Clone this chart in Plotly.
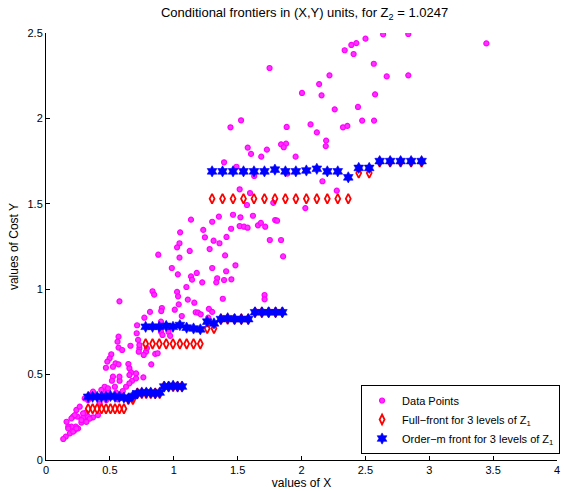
import numpy as np
import plotly.graph_objects as go

# ---------------- data points (X, Cost Y) ----------------
data_x = [
    1.516, 1.573, 1.464, 1.522, 1.353, 1.301, 1.135, 1.516, 1.550, 1.578, 1.449, 1.231, 1.050, 1.244, 1.413,
    1.312, 1.358, 1.045, 1.026, 1.125, 1.281, 0.879, 1.045, 1.402, 1.483, 0.985, 1.301, 1.032, 1.180, 1.410,
    1.135, 1.143, 1.340, 1.333, 1.223, 1.394, 1.451, 1.099, 0.834, 0.847, 1.026, 1.034, 0.575, 1.110, 1.384,
    1.161, 1.039, 0.907, 0.902, 1.008, 0.814, 1.275, 1.301, 1.172, 1.190, 1.211, 0.770, 1.063, 0.900, 0.713,
    1.270,
    0.710, 0.568, 0.560, 0.568, 0.661, 0.721, 0.731, 0.726, 0.783, 0.765, 0.855, 0.874, 0.824, 0.511, 0.498,
    0.480, 0.544, 0.568, 0.524, 0.469, 0.645, 0.653, 0.666, 0.705, 0.762, 0.524, 0.516, 0.576, 0.674, 0.539,
    0.459, 0.446, 0.485, 0.549, 0.562, 0.601, 0.472, 0.420, 0.407, 0.368, 0.329, 0.311, 0.290, 0.246, 0.212,
    0.277, 0.251, 0.233, 0.200, 0.225, 0.174, 0.187, 0.155, 0.135, 0.342, 0.316,
    0.596, 0.575, 0.653, 0.705, 0.485, 0.433, 0.627, 0.653, 0.368, 0.342, 0.303, 0.329, 0.238, 0.264, 0.290,
    0.225, 0.199, 0.161, 0.174, 0.213, 0.238, 0.277,
    0.900, 0.912, 0.959, 0.972, 0.731, 0.790,
    2.639, 2.836, 3.447, 2.501, 2.429, 2.390, 2.338, 2.408, 2.566, 2.219, 2.667, 2.836, 2.138, 2.004, 2.157,
    2.576, 2.260, 2.442, 2.071, 2.120, 2.325, 2.359, 2.475, 2.568, 2.193, 2.190, 2.164, 2.276,
    1.527, 1.444, 1.884, 1.840, 1.879, 1.861, 1.579, 1.605, 1.729, 1.685, 1.954, 1.394, 1.491, 1.630, 1.889,
    1.597, 1.779, 2.030, 1.620, 1.659, 1.682, 1.716, 1.794, 1.809, 1.752, 1.840, 1.856, 1.711, 1.711, 1.750,
]
data_y = [
    1.585, 1.493, 1.436, 1.421, 1.425, 1.395, 1.407, 1.370, 1.366, 1.360, 1.354, 1.347, 1.333, 1.304, 1.306,
    1.284, 1.269, 1.269, 1.245, 1.224, 1.235, 1.202, 1.185, 1.198, 1.140, 1.124, 1.124, 1.087, 1.095, 1.105,
    1.075, 1.056, 1.064, 1.040, 1.040, 1.054, 1.058, 1.013, 0.988, 0.968, 0.984, 0.958, 0.929, 0.939, 0.944,
    0.921, 0.911, 0.890, 0.872, 0.880, 0.867, 0.885, 0.867, 0.865, 0.863, 0.853, 0.833, 0.843, 0.810, 0.789,
    0.833,
    0.742, 0.722, 0.693, 0.658, 0.669, 0.703, 0.654, 0.634, 0.634, 0.615, 0.621, 0.625, 0.560, 0.619, 0.595,
    0.576, 0.566, 0.560, 0.546, 0.540, 0.562, 0.537, 0.513, 0.507, 0.484, 0.488, 0.464, 0.464, 0.464, 0.429,
    0.429, 0.400, 0.400, 0.394, 0.355, 0.404, 0.351, 0.332, 0.263, 0.250, 0.254, 0.277, 0.248, 0.254, 0.254,
    0.219, 0.185, 0.195, 0.195, 0.176, 0.195, 0.156, 0.137, 0.123, 0.242, 0.223,
    0.644, 0.488, 0.498, 0.478, 0.420, 0.410, 0.429, 0.449, 0.400, 0.381, 0.361, 0.351, 0.293, 0.312, 0.273,
    0.263, 0.244, 0.224, 0.185, 0.166, 0.185, 0.234,
    0.751, 0.732, 0.751, 0.727, 0.673, 0.655,
    2.492, 2.494, 2.439, 2.467, 2.441, 2.430, 2.399, 2.377, 2.320, 2.252, 2.246, 2.252, 2.201, 2.149, 2.135,
    2.141, 2.053, 2.067, 1.965, 1.918, 1.948, 1.956, 1.987, 1.987, 1.870, 1.838, 1.632, 1.577,
    1.989, 1.948, 1.950, 1.848, 1.852, 1.831, 1.829, 1.792, 1.817, 1.776, 1.776, 1.743, 1.717, 1.663, 1.677,
    1.563, 1.506, 1.475, 1.430, 1.374, 1.388, 1.366, 1.405, 1.401, 1.288, 1.288, 1.192, 0.966, 0.941, 2.295,
]

# ---------------- frontiers for 3 levels of Z1 ----------------
lvl1_x = [0.330, 0.365, 0.400, 0.435, 0.470, 0.505, 0.540, 0.575, 0.610, 0.645, 0.680,
          0.715, 0.750, 0.785, 0.820, 0.855, 0.890, 0.925, 0.960, 0.995, 1.030, 1.065]
lvl1_full = [0.30, 0.30, 0.30, 0.30, 0.30, 0.30, 0.30, 0.30, 0.30, 0.355, 0.355,
             0.39, 0.39, 0.39, 0.39, 0.39, 0.39, 0.43, 0.43, 0.43, 0.43, 0.43]
lvl1_orderm = [0.37, 0.37, 0.37, 0.37, 0.37, 0.375, 0.37, 0.37, 0.365, 0.36, 0.375,
               0.39, 0.395, 0.395, 0.395, 0.39, 0.395, 0.43, 0.43, 0.435, 0.43, 0.43]

lvl2_x = [0.780, 0.834, 0.887, 0.941, 0.994, 1.048, 1.101, 1.155, 1.208, 1.262, 1.315,
          1.369, 1.422, 1.476, 1.529, 1.583, 1.636, 1.690, 1.743, 1.797, 1.850]
lvl2_full = [0.68, 0.68, 0.68, 0.68, 0.68, 0.68, 0.68, 0.68, 0.68, 0.77, 0.77,
             0.825, 0.825, 0.825, 0.825, 0.825, 0.865, 0.865, 0.865, 0.865, 0.865]
lvl2_orderm = [0.78, 0.78, 0.78, 0.785, 0.78, 0.79, 0.775, 0.77, 0.765, 0.81, 0.80,
               0.825, 0.83, 0.825, 0.825, 0.825, 0.865, 0.865, 0.865, 0.865, 0.865]

lvl3_x = [1.300, 1.382, 1.464, 1.546, 1.628, 1.710, 1.792, 1.874, 1.956, 2.038, 2.120,
          2.202, 2.284, 2.366, 2.448, 2.530, 2.612, 2.694, 2.776, 2.858, 2.940]
lvl3_full = [1.53, 1.53, 1.53, 1.53, 1.53, 1.53, 1.53, 1.53, 1.53, 1.53, 1.53,
             1.53, 1.53, 1.53, 1.68, 1.68, 1.745, 1.745, 1.745, 1.745, 1.745]
lvl3_orderm = [1.69, 1.69, 1.69, 1.69, 1.69, 1.69, 1.70, 1.69, 1.69, 1.695, 1.705,
               1.69, 1.69, 1.655, 1.71, 1.71, 1.75, 1.75, 1.75, 1.75, 1.75]

x_ticks = [0, 0.5, 1, 1.5, 2, 2.5, 3, 3.5, 4]
x_tick_labels = ["0", "0.5", "1", "1.5", "2", "2.5", "3", "3.5", "4"]
y_ticks = [0, 0.5, 1, 1.5, 2, 2.5]
y_tick_labels = ["0", "0.5", "1", "1.5", "2", "2.5"]

front_x = lvl1_x + lvl2_x + lvl3_x
front_full = lvl1_full + lvl2_full + lvl3_full
front_orderm = lvl1_orderm + lvl2_orderm + lvl3_orderm

FONT = "Liberation Sans, Arial, Helvetica, sans-serif"

fig = go.Figure()
fig.add_trace(go.Scatter(
    x=data_x, y=data_y, mode="markers", name="Data Points",
    marker=dict(symbol="circle", size=5, color="#ff33ff",
                line=dict(color="#ff00ff", width=1.2)),
))
fig.add_trace(go.Scatter(
    x=front_x, y=front_full, mode="markers",
    name="Full\u2212front for 3 levels of Z<sub>1</sub>",
    marker=dict(symbol="diamond-tall-open", size=7, color="#ff0000",
                line=dict(color="#ff0000", width=1.8)),
))
fig.add_trace(go.Scatter(
    x=front_x, y=front_orderm, mode="markers",
    name="Order\u2212m front for 3 levels of Z<sub>1</sub>",
    marker=dict(symbol="hexagram", size=8.5, color="#0000ff",
                line=dict(color="#0000ff", width=0.6)),
))

axis_common = dict(
    showline=True, linecolor="#000000", linewidth=1,
    ticks="inside", ticklen=4, tickcolor="#000000", tickwidth=1,
    showgrid=False, zeroline=False, mirror=False,
    tickfont=dict(family=FONT, size=11, color="#000000"),
)

fig.update_layout(
    width=564, height=491,
    margin=dict(l=46, r=4, t=33, b=31),
    paper_bgcolor="white", plot_bgcolor="white",
    font=dict(family=FONT, color="#000000"),
    title=dict(text="Conditional frontiers in (X,Y) units, for Z<sub>2</sub> = 1.0247",
               x=0.54, xanchor="center", y=0.983, yanchor="top",
               font=dict(family=FONT, size=13, color="#000000")),
    xaxis=dict(range=[0, 4], tickvals=x_ticks, ticktext=x_tick_labels,
               title=dict(text="values of X", standoff=2,
                          font=dict(family=FONT, size=12, color="#000000")),
               **axis_common),
    yaxis=dict(range=[0, 2.5], tickvals=y_ticks, ticktext=y_tick_labels,
               title=dict(text="values of Cost Y", standoff=6,
                          font=dict(family=FONT, size=12, color="#000000")),
               **axis_common),
    showlegend=True,
    legend=dict(x=1.006, xanchor="right", y=0.014, yanchor="bottom",
                bordercolor="#000000", borderwidth=1, bgcolor="white",
                font=dict(family=FONT, size=11, color="#000000"),
                tracegroupgap=0, itemwidth=30),
)

fig.write_html("out.html")
